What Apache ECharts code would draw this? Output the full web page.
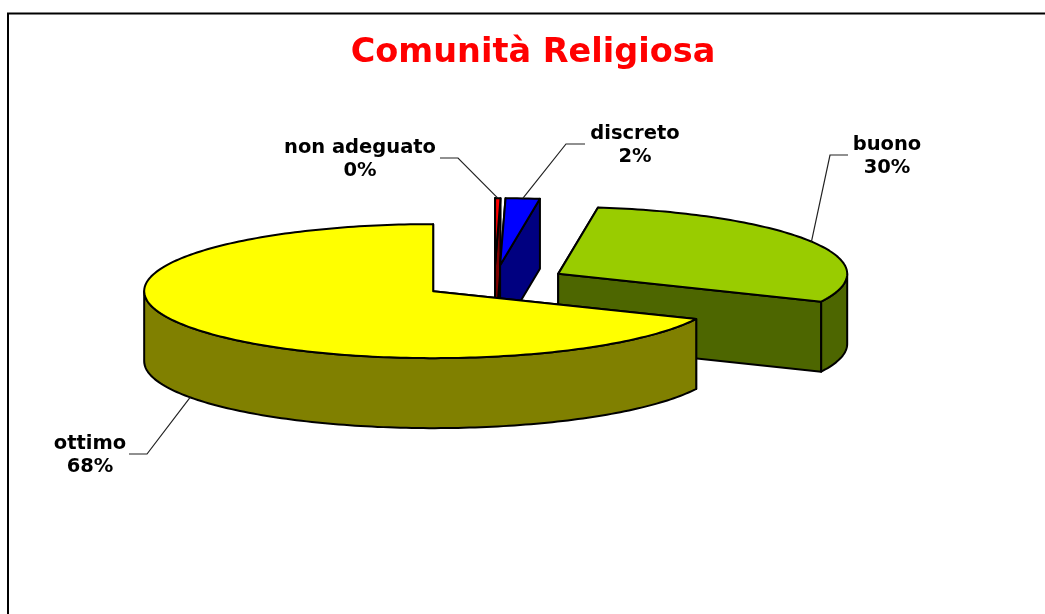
<!DOCTYPE html>
<html>
<head>
<meta charset="utf-8">
<title>Comunità Religiosa</title>
<script src="https://cdn.jsdelivr.net/npm/echarts@6/dist/echarts.min.js"></script>
<style>
html, body { margin: 0; padding: 0; background: #fff; }
#chart { width: 1045px; height: 614px; }
</style>
</head>
<body>
<div id="chart"></div>
<script>
// dati
const categories = ['non adeguato', 'discreto', 'buono', 'ottimo'];
const values = [0.3, 1.9, 29.6, 68.2];
const topColors = ['#ff0000', '#0000ff', '#99cc00', '#ffff00'];
const sideColors = ['#800000', '#000080', '#4d6600', '#808000'];

// geometria della torta 3D
const cx = 494.4, cy = 282;
const rx = 289, ry = 67, depth = 70, explode = 72.8;
const font = 'DejaVu Sans, Verdana, sans-serif';

// posizione etichette: [centro x, centro y, gomito x, gomito y, fine x]
const labelLayout = [
    [360, 159, 458, 158, 440],
    [635, 145, 566, 144, 585],
    [887, 156, 830, 155, 848],
    [90, 455, 147, 454, 129]
];

const total = values.reduce((a, b) => a + b, 0);

function sliceAngles(i) {
    const before = values.slice(0, i).reduce((a, b) => a + b, 0);
    return [before / total * 2 * Math.PI, (before + values[i]) / total * 2 * Math.PI];
}

// punto sul bordo: angolo orario da ore 12
function rimPoint(ox, oy, a) {
    return [ox + rx * Math.sin(a), oy - ry * Math.cos(a)];
}

function arcPoints(ox, oy, a0, a1) {
    const n = Math.max(2, Math.ceil((a1 - a0) / 0.02));
    const pts = [];
    for (let k = 0; k <= n; k++) {
        pts.push(rimPoint(ox, oy, a0 + (a1 - a0) * k / n));
    }
    return pts;
}

function poly(points, fill) {
    return {
        type: 'polygon',
        shape: { points: points },
        style: { fill: fill, stroke: '#000', lineWidth: 2, lineJoin: 'round' }
    };
}

function renderSlice(params, api) {
    const i = params.dataIndex;
    const [a0, a1] = sliceAngles(i);
    const mid = (a0 + a1) / 2;
    const ox = cx + explode * Math.sin(mid);
    const oy = cy - explode * (ry / rx) * Math.cos(mid);
    const side = sideColors[i];
    const children = [];

    // facce radiali
    [a0, a1].forEach(a => {
        const p = rimPoint(ox, oy, a);
        children.push(poly([[ox, oy], p, [p[0], p[1] + depth], [ox, oy + depth]], side));
    });

    // parete esterna, solo la parte davanti
    const w0 = Math.max(a0, Math.PI / 2);
    const w1 = Math.min(a1, Math.PI * 1.5);
    if (w1 > w0) {
        const arc = arcPoints(ox, oy, w0, w1);
        const low = arc.map(p => [p[0], p[1] + depth]).reverse();
        children.push(poly(arc.concat(low), side));
    }

    // faccia superiore
    children.push(poly([[ox, oy]].concat(arcPoints(ox, oy, a0, a1)), topColors[i]));

    // linea guida
    const anchor = rimPoint(ox, oy, mid);
    const front = mid > Math.PI / 2 && mid < Math.PI * 1.5;
    const lay = labelLayout[i];
    children.push({
        type: 'polyline',
        shape: { points: [[anchor[0], anchor[1] + (front ? depth : 0)], [lay[2], lay[3]], [lay[4], lay[3]]] },
        style: { fill: null, stroke: '#222', lineWidth: 1.2 }
    });

    // etichetta
    children.push({
        type: 'text',
        style: {
            x: lay[0],
            y: lay[1],
            text: categories[i] + '\n' + Math.round(api.value(0)) + '%',
            font: 'bold 19.5px ' + font,
            fill: '#000',
            align: 'center',
            verticalAlign: 'middle',
            lineHeight: 23
        }
    });

    return { type: 'group', children: children };
}

const chart = echarts.init(document.getElementById('chart'), null, { renderer: 'canvas' });

chart.setOption({
    animation: false,
    backgroundColor: '#fff',
    title: {
        text: 'Comunità Religiosa',
        left: 528,
        top: 31,
        textAlign: 'center',
        textStyle: { color: '#ff0000', fontFamily: font, fontWeight: 'bold', fontSize: 33.5 }
    },
    graphic: [{
        type: 'polyline',
        silent: true,
        shape: { points: [[8, 614], [8, 13.5], [1045, 13.5]] },
        style: { fill: null, stroke: '#000', lineWidth: 2 }
    }],
    series: [{
        type: 'custom',
        coordinateSystem: 'none',
        silent: true,
        clip: false,
        renderItem: renderSlice,
        data: values
    }]
});
</script>
</body>
</html>
